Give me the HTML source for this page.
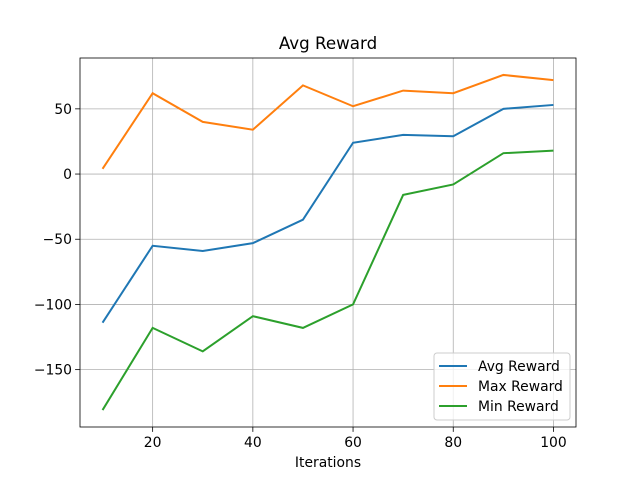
<!DOCTYPE html>
<html><head><meta charset="utf-8"><style>
body{margin:0;background:#fff;}
svg text{font-family:"DejaVu Sans","Liberation Sans",sans-serif;fill:#000;}
</style></head><body>
<svg id="chart" width="640" height="480" xmlns="http://www.w3.org/2000/svg"></svg>
<script>
const iterations=[10,20,30,40,50,60,70,80,90,100];
const avgReward=[-114,-55,-59,-53,-35,24,30,29,50,53];
const maxReward=[4,62,40,34,68,52,64,62,76,72];
const minReward=[-181,-118,-136,-109,-118,-100,-16,-8,16,18];
const xTicks=[20,40,60,80,100];
const yTicks=[50,0,-50,-100,-150];
const yTickLabels=["50","0","\u221250","\u2212100","\u2212150"];
const L=80,R=576,T=58,B=427;
const xMin=5.5,xMax=104.5,yMin=-194,yMax=89;
function X(v){return L+(v-xMin)/(xMax-xMin)*(R-L);}
function Y(v){return B-(v-yMin)/(yMax-yMin)*(B-T);}
const svg=document.getElementById('chart');
const NS='http://www.w3.org/2000/svg';
function el(t,a,p){const e=document.createElementNS(NS,t);for(const k in a)e.setAttribute(k,a[k]);(p||svg).appendChild(e);return e;}
xTicks.forEach(v=>{
 const g=el('line',{x1:X(v),x2:X(v),y1:T,y2:B,stroke:'#b0b0b0','stroke-width':0.8});
 
 
 el('line',{x1:X(v),x2:X(v),y1:B,y2:B+4.9,stroke:'#000','stroke-width':0.8});
 const t=el('text',{x:X(v),y:B+20,'font-size':13.9,'text-anchor':'middle'});t.textContent=v;
 
 
});
yTicks.forEach((v,i)=>{
 const g=el('line',{x1:L,x2:R,y1:Y(v),y2:Y(v),stroke:'#b0b0b0','stroke-width':0.8});
 
 
 el('line',{x1:L-4.9,x2:L,y1:Y(v),y2:Y(v),stroke:'#000','stroke-width':0.8});
 const t=el('text',{x:L-8,y:Y(v)+5,'font-size':13.9,'text-anchor':'end'});t.textContent=yTickLabels[i];
 
 
});
const series=[[avgReward,'#1f77b4','avg-reward-line'],[maxReward,'#ff7f0e','max-reward-line'],[minReward,'#2ca02c','min-reward-line']];
series.forEach(s=>{
 const p=el('polyline',{points:iterations.map((x,i)=>X(x)+','+Y(s[0][i])).join(' '),fill:'none',stroke:s[1],'stroke-width':2});
 
 
});
const fr=el('rect',{x:L,y:T,width:R-L,height:B-T,fill:'none',stroke:'#000','stroke-width':0.8});


const title=el('text',{x:(L+R)/2,y:T-9,'font-size':16.7,'text-anchor':'middle'});title.textContent='Avg Reward';


const xl=el('text',{x:(L+R)/2,y:B+40,'font-size':13.9,'text-anchor':'middle'});xl.textContent='Iterations';


const lg=el('rect',{x:434,y:353,width:136,height:67,fill:'#fff','fill-opacity':0.8,stroke:'#ccc',rx:3});


['Avg Reward','Max Reward','Min Reward'].forEach((n,i)=>{
 const y=366+i*20;
 const l=el('line',{x1:439,x2:467,y1:y,y2:y,stroke:series[i][1],'stroke-width':2});
 
 
 const t=el('text',{x:478,y:y+5,'font-size':13.9});t.textContent=n;
 
 
});
</script>
</body></html>
